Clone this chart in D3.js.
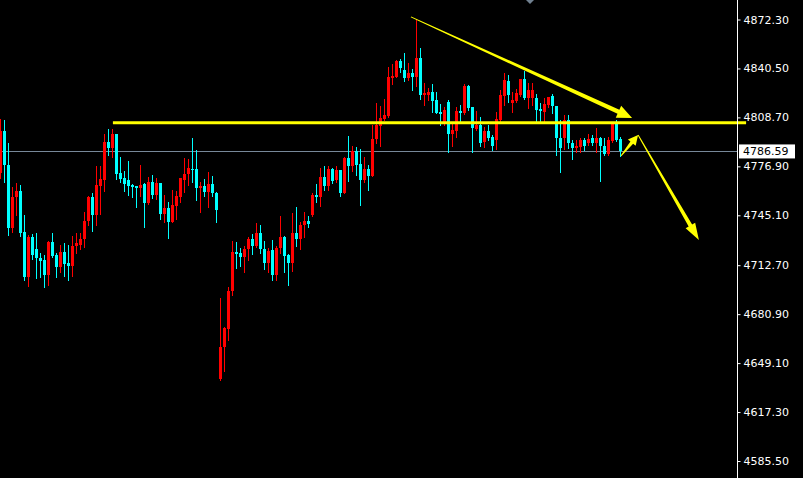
<!DOCTYPE html>
<html><head><meta charset="utf-8">
<script src="https://cdn.jsdelivr.net/npm/d3@7"></script>
<style>html,body{margin:0;padding:0;background:#000;overflow:hidden}</style>
</head><body>
<svg id="chart" width="803" height="478"></svg>
<script>
// ---- data (bar index 0..155) ----
const open = [4772.6,4799.9,4777.8,4736.8,4756.9,4760.9,4734.2,4704.9,4730.9,4723.2,
4717.3,4716.0,4706.3,4727.7,4719.3,4711.5,4721.2,4714.1,4712.1,4725.1,
4725.8,4729.7,4741.4,4756.9,4745.3,4764.1,4768.0,4792.7,4788.8,4797.9,
4772.6,4769.3,4768.0,4764.8,4764.1,4762.8,4765.4,4753.1,4766.7,4758.3,
4766.1,4745.9,4749.8,4740.7,4751.1,4756.9,4768.0,4771.9,4775.2,4775.2,
4762.8,4764.1,4760.2,4765.4,4759.6,4638.7,4659.5,4671.2,4695.9,4721.2,
4720.6,4717.9,4723.2,4729.7,4725.1,4733.6,4723.2,4714.1,4722.5,4706.3,
4723.8,4730.9,4719.3,4714.1,4733.6,4729.7,4738.8,4741.4,4745.3,4758.3,
4756.9,4769.9,4764.1,4775.2,4768.0,4774.5,4759.6,4782.3,4777.1,4786.9,
4778.4,4768.0,4775.2,4770.6,4794.7,4803.1,4807.7,4809.6,4834.3,4835.0,
4845.4,4839.5,4834.3,4837.6,4835.0,4847.3,4823.3,4823.3,4825.2,4820.0,
4812.2,4805.1,4818.7,4797.9,4799.9,4812.9,4811.6,4829.1,4815.5,4801.2,
4803.8,4792.7,4799.9,4796.0,4794.0,4807.0,4822.6,4832.4,4818.1,4819.4,
4823.3,4833.7,4821.3,4821.3,4821.3,4814.2,4812.2,4816.8,4822.6,4816.1,
4795.3,4795.3,4807.0,4792.1,4788.8,4789.5,4794.0,4792.1,4795.3,4792.1,
4795.3,4790.1,4784.9,4793.4,4804.4,4794.7];
const high = [4807.7,4807.0,4792.1,4763.5,4766.1,4764.8,4745.3,4732.3,4732.9,4733.6,
4720.6,4719.3,4728.4,4733.6,4720.6,4725.8,4727.1,4725.8,4731.6,4733.6,
4733.6,4747.2,4757.6,4759.6,4777.1,4777.1,4797.9,4801.2,4801.2,4797.9,
4782.9,4773.9,4780.4,4765.4,4764.1,4777.8,4766.1,4769.9,4771.3,4769.3,
4766.1,4758.3,4753.7,4761.5,4760.9,4769.3,4782.3,4781.7,4795.3,4787.5,
4766.7,4768.7,4773.2,4770.6,4760.2,4691.3,4672.5,4698.5,4728.4,4727.7,
4723.8,4725.1,4731.0,4732.9,4740.1,4738.8,4728.4,4723.8,4729.0,4725.1,
4744.6,4731.6,4719.9,4746.6,4750.5,4740.7,4747.2,4744.6,4759.6,4765.4,
4775.8,4777.1,4777.1,4775.8,4777.1,4774.5,4782.9,4796.6,4790.1,4789.5,
4788.2,4782.9,4777.8,4803.8,4818.1,4816.1,4820.7,4841.5,4843.4,4846.0,
4846.7,4850.6,4844.1,4840.2,4872.7,4853.8,4831.1,4827.8,4830.4,4825.2,
4817.4,4815.5,4820.0,4805.1,4815.5,4816.8,4830.4,4829.8,4815.5,4812.9,
4809.0,4802.5,4803.8,4797.3,4812.2,4826.5,4837.6,4836.3,4825.2,4827.2,
4833.7,4838.9,4831.1,4831.1,4823.9,4818.1,4821.3,4822.0,4823.9,4816.1,
4807.0,4810.3,4810.3,4794.0,4794.0,4795.3,4795.3,4797.9,4797.3,4801.8,
4796.0,4795.3,4796.0,4804.4,4807.0,4796.0];
const low = [4769.3,4766.7,4732.3,4734.2,4745.3,4731.6,4703.0,4699.1,4716.7,4704.3,
4704.9,4698.5,4699.8,4717.9,4704.9,4708.2,4705.6,4703.0,4705.6,4720.6,
4723.2,4724.5,4738.8,4734.9,4738.8,4745.9,4760.9,4784.3,4782.9,4768.7,
4766.7,4760.9,4758.3,4756.9,4750.5,4757.6,4737.5,4752.4,4756.3,4755.7,
4742.7,4740.7,4730.3,4740.7,4742.7,4753.7,4760.2,4764.8,4766.7,4755.0,
4747.2,4757.6,4750.5,4757.6,4740.7,4638.0,4643.9,4664.0,4693.3,4710.8,
4712.1,4708.2,4716.0,4719.9,4724.5,4720.6,4710.2,4708.2,4703.0,4703.0,
4720.6,4708.2,4699.8,4708.9,4725.1,4723.2,4731.0,4737.5,4744.6,4753.7,
4751.1,4761.5,4761.5,4766.1,4766.7,4757.6,4759.6,4767.4,4773.9,4771.3,
4751.8,4766.7,4761.5,4770.6,4792.1,4790.1,4807.0,4809.0,4830.4,4835.0,
4838.2,4832.4,4833.0,4826.5,4829.1,4820.7,4816.8,4820.0,4812.2,4811.6,
4803.8,4803.8,4786.2,4790.1,4796.0,4806.4,4810.9,4813.5,4786.2,4800.5,
4790.1,4789.5,4794.0,4787.5,4788.2,4805.0,4816.8,4818.7,4812.2,4818.7,
4822.6,4820.7,4814.8,4816.8,4806.4,4806.4,4806.4,4815.5,4811.6,4784.3,
4773.2,4788.2,4788.8,4781.7,4786.2,4786.2,4787.5,4790.8,4790.8,4786.2,
4767.4,4784.3,4784.3,4792.7,4793.4,4783.6];
const close = [4799.9,4777.8,4736.8,4756.9,4760.9,4733.6,4704.9,4730.9,4719.3,4717.3,
4715.4,4706.3,4727.7,4718.6,4711.5,4721.2,4713.4,4712.1,4725.1,4727.1,
4729.7,4741.4,4756.9,4745.3,4764.8,4768.7,4792.7,4788.8,4797.9,4771.9,
4768.7,4765.4,4764.1,4763.5,4762.8,4764.8,4753.1,4766.7,4758.3,4766.1,
4745.9,4749.8,4740.7,4751.8,4757.6,4769.3,4771.9,4775.8,4774.5,4762.8,
4764.1,4760.2,4765.4,4759.6,4748.5,4659.5,4671.8,4695.9,4721.2,4719.9,
4717.9,4723.2,4729.7,4725.1,4733.6,4723.2,4714.1,4721.9,4706.3,4723.8,
4730.9,4718.6,4714.1,4733.6,4729.7,4738.8,4741.4,4739.4,4758.3,4756.9,
4769.9,4764.1,4775.2,4767.4,4774.5,4759.6,4782.3,4777.1,4786.9,4777.8,
4768.0,4775.2,4770.6,4794.7,4803.8,4808.3,4810.3,4835.0,4835.6,4845.4,
4840.8,4834.3,4837.6,4835.0,4847.3,4823.3,4824.6,4825.2,4819.4,4811.6,
4810.9,4813.5,4797.9,4800.5,4812.9,4811.6,4829.1,4814.8,4801.8,4803.8,
4792.1,4799.9,4795.3,4790.1,4807.7,4823.3,4833.0,4823.3,4820.0,4824.6,
4833.7,4821.3,4826.5,4826.5,4813.5,4812.9,4817.4,4822.0,4816.1,4795.3,
4788.8,4807.0,4792.1,4788.8,4790.1,4794.0,4790.1,4794.7,4792.1,4795.3,
4790.1,4784.9,4794.0,4804.4,4794.0,4786.59];
const tickValues = [4872.30,4840.50,4808.70,4776.90,4745.10,4712.70,4680.90,4649.10,4617.30,4585.50];
const currentPrice = 4786.59;
// drawn objects: [index, price]
const levelLine = [[28.1, 4805.2],[186.4, 4805.2]];
const trendArrow = [[102.6, 4874.0],[157.9, 4808.3]];
const smallArrow = [[155.1, 4783.6],[159.4, 4797.3]];
const downArrow = [[159.4, 4797.3],[174.6, 4729.0]];

// ---- scales ----
const W = 803, H = 478, axisX = 737.5;
const x = d3.scaleLinear().domain([0, 1]).range([0.5, 4.5]);
const y = d3.scaleLinear().domain([4585.5, 4872.3]).range([461, 19.5]);
const svg = d3.select("#chart");
svg.append("rect").attr("width", W).attr("height", H).attr("fill", "#000");

// current price line
svg.append("line").attr("x1", 0).attr("x2", axisX).attr("y1", Math.round(y(currentPrice)) + 0.5)
  .attr("y2", Math.round(y(currentPrice)) + 0.5).attr("stroke", "#778899").attr("stroke-width", 1);

// shift marker
svg.append("path").attr("d", "M526,0 L534,0 L530,4 Z").attr("fill", "#708090");

// candles
const bars = d3.range(open.length).map(i => ({i, o: open[i], h: high[i], l: low[i], c: close[i]}));
const g = svg.append("g");
g.selectAll("line.wick").data(bars).join("line").attr("class", "wick")
  .attr("x1", d => Math.floor(x(d.i)) + 0.5).attr("x2", d => Math.floor(x(d.i)) + 0.5)
  .attr("y1", d => Math.round(y(d.h))).attr("y2", d => Math.round(y(d.l)) + 1)
  .attr("stroke", d => d.c >= d.o ? "#ff0000" : "#00ffff").attr("stroke-width", 1);
g.selectAll("rect.body").data(bars).join("rect").attr("class", "body")
  .attr("x", d => Math.floor(x(d.i)) - 1).attr("width", 3)
  .attr("y", d => Math.round(y(Math.max(d.o, d.c))))
  .attr("height", d => Math.max(1, Math.round(y(Math.min(d.o, d.c))) - Math.round(y(Math.max(d.o, d.c)))))
  .attr("fill", d => d.c >= d.o ? "#ff0000" : "#00ffff");

// yellow horizontal level
svg.append("line").attr("x1", x(levelLine[0][0])).attr("x2", x(levelLine[1][0]))
  .attr("y1", y(levelLine[0][1])).attr("y2", y(levelLine[1][1]))
  .attr("stroke", "#ffff00").attr("stroke-width", 3);

// tapered arrows
function arrow(pts, w0, w1, headLen, headW) {
  const x1 = x(pts[0][0]), y1 = y(pts[0][1]), x2 = x(pts[1][0]), y2 = y(pts[1][1]);
  const dx = x2 - x1, dy = y2 - y1, L = Math.hypot(dx, dy);
  const ux = dx / L, uy = dy / L, nx = -uy, ny = ux;
  const bx = x2 - ux * headLen, by = y2 - uy * headLen;
  const p = [
    [x1 + nx * w0 / 2, y1 + ny * w0 / 2],
    [bx + nx * w1 / 2, by + ny * w1 / 2],
    [bx + nx * headW / 2, by + ny * headW / 2],
    [x2, y2],
    [bx - nx * headW / 2, by - ny * headW / 2],
    [bx - nx * w1 / 2, by - ny * w1 / 2],
    [x1 - nx * w0 / 2, y1 - ny * w0 / 2]
  ];
  svg.append("path").attr("d", "M" + p.map(q => q.join(",")).join("L") + "Z").attr("fill", "#ffff00");
}
arrow(trendArrow, 1, 4.5, 15, 13);
arrow(smallArrow, 1, 3.5, 10, 10);
arrow(downArrow, 1, 4, 17, 11);

// axis
svg.append("line").attr("x1", axisX).attr("x2", axisX).attr("y1", 0).attr("y2", H)
  .attr("stroke", "#ffffff").attr("stroke-width", 1);
const ax = svg.append("g").attr("transform", `translate(${axisX},0)`)
  .call(d3.axisRight(y).tickValues(tickValues).tickSize(3).tickPadding(3).tickFormat(d3.format(".2f")));
ax.select(".domain").remove();
ax.selectAll(".tick line").attr("stroke", "#ffffff");
ax.selectAll(".tick text").attr("fill", "#ffffff").attr("font-family", "DejaVu Sans, sans-serif").attr("font-size", 11);

// current price tag
const cy = y(currentPrice);
svg.append("rect").attr("x", 739).attr("y", cy - 7).attr("width", 56).attr("height", 14).attr("fill", "#ffffff");
svg.append("text").attr("x", 743).attr("y", cy).attr("dy", "0.35em").attr("fill", "#000")
  .attr("font-family", "DejaVu Sans, sans-serif").attr("font-size", 11).text(d3.format(".2f")(currentPrice));
</script>
</body></html>
